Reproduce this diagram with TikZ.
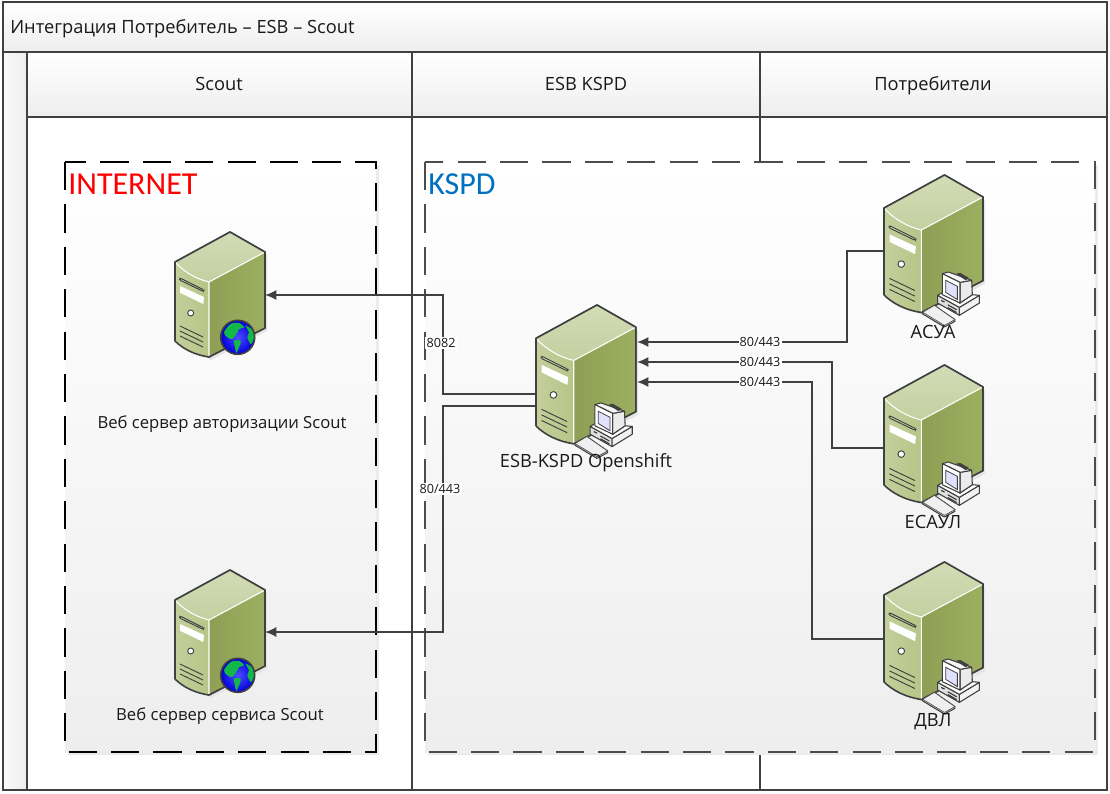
\documentclass[tikz,border=0pt]{standalone}
\usepackage{fontspec}
\setmainfont{Open Sans}
\newfontfamily\zonefont{Carlito}
\usepackage{tikz}
\usetikzlibrary{arrows.meta,positioning,calc}
\usepackage{xcolor}
\definecolor{framegray}{HTML}{404040}
\definecolor{headgray}{HTML}{EEEEEE}
\definecolor{srvfrontA}{HTML}{C4CF9C}
\definecolor{srvfrontB}{HTML}{B6C587}
\definecolor{srvsideA}{HTML}{8E9F55}
\definecolor{srvsideB}{HTML}{9DAF61}
\definecolor{srvtopA}{HTML}{D2DCB6}
\definecolor{srvtopB}{HTML}{C3D0A0}
\definecolor{globeland}{HTML}{12B848}
\definecolor{kspdblue}{HTML}{0070C0}
\tikzset{
    framebar/.style={draw=framegray,line width=0.95pt,top color=white,bottom color=headgray},
    zonebox/.style={line width=1.5pt,dash pattern=on 21.2pt off 10.6pt},
    zoneshade/.style={top color=white,bottom color=headgray},
    headtext/.style={font=\fontsize{13.7pt}{16pt}\selectfont,text=black!90,inner sep=0pt,text height=9.8pt,text depth=0pt},
    srvtext/.style={font=\fontsize{12.5pt}{15pt}\selectfont,text=black!90,inner sep=0pt,text height=8.9pt,text depth=0pt},
    porttext/.style={font=\fontsize{9.5pt}{11pt}\selectfont,text=black!90,fill=white,inner sep=0.8pt,text height=6.8pt,text depth=0pt},
    zonetext/.style={font=\zonefont\fontsize{24pt}{27pt}\selectfont,inner sep=0pt,anchor=base west},
    link/.style={draw=framegray,line width=1.1pt,-{Latex[length=8.5pt,width=7.5pt]}},
    pics/server/.style={code={
        \fill[black!10] (2,33) -- (57,3) -- (92,23) -- (92,99) -- (36,128) -- (2,112) -- cycle;
        \draw[line width=1.1pt,draw=framegray,line join=round,fill=srvsideA] (0,30) -- (55,0) -- (90,20) -- (90,96) -- (34,125) -- cycle;
        \shade[left color=srvsideA,right color=srvsideB] (34,50) -- (90,20) -- (90,96) -- (34,125) -- cycle;
        \shade[top color=srvtopA,bottom color=srvtopB] (0,30) -- (55,0) -- (90,20) -- (34,50) .. controls (22,47) and (10,41) .. (0,30) -- cycle;
        \shade[left color=srvfrontA,right color=srvfrontB] (0,30) .. controls (10,41) and (22,47) .. (34,50) -- (34,125) .. controls (20,123) and (8,117) .. (0,109) -- cycle;
        \draw[white,line width=0.8pt] (0,30) .. controls (10,41) and (22,47) .. (34,50) -- (90,20) (34,50) -- (34,125);
        \draw[line width=1.2pt,draw=framegray,line join=round] (0,109) -- (0,30) -- (55,0) -- (90,20) -- (90,96) -- (34,125) .. controls (20,123) and (8,117) .. (0,109);
        \draw[framegray,fill=srvfrontA,line width=0.7pt,rounded corners=1pt] (5,46) -- (29,58) -- (28.5,59.5) -- (4.5,48) -- cycle;
        \fill[white] (5,54) -- (29,65) -- (28.3,72) -- (5,60.7) -- cycle;
        \draw[framegray,fill=white,line width=0.7pt] (15.7,81) circle (3);
        \foreach \v in {0,5,10} \draw[framegray,line width=0.7pt] (5,94+\v) -- (28,105+\v);
    }},
    pics/webglobe/.style={code={
        \shade[inner color=blue!70!white,outer color=blue!85!black] (62.7,105.3) circle (17);
        \begin{scope}[shift={(62.7,105.3)}]
            \fill[globeland] plot[smooth cycle] coordinates {(-13.7,-5) (-7,-13.3) (1.3,-14.3) (6.3,-10) (1.3,-8.3) (-0.3,-5) (-5.3,1.7) (-10.3,0)};
            \fill[globeland] plot[smooth cycle] coordinates {(8,-11.7) (15.3,-6.7) (16,1.7) (13,6.7) (9.7,0) (11.3,-5)};
            \fill[globeland] plot[smooth cycle] coordinates {(-3.7,3.3) (3,3.3) (2,8.3) (-1.3,15.5) (-2.7,10)};
        \end{scope}
        \draw[framegray,line width=1.2pt] (62.7,105.3) circle (17);
    }},
    pics/desktop/.style={code={
        \draw[framegray,fill=gray!25,line width=0.8pt,line join=round] (35.2,124.8) -- (45.8,118.5) -- (64.5,131.5) -- (64.5,133) -- (54.9,138.2) -- (35.2,126.3) -- cycle;
        \draw[black!70,fill=black!6,line width=0.5pt,line join=round] (35.2,124.8) -- (45.8,118.5) -- (64.5,131.5) -- (54.9,136.7) -- cycle;
        \draw[framegray,fill=black!12,line width=0.8pt,line join=round] (48.8,109.4) -- (68.5,120.3) -- (68.5,127.6) -- (48.8,116.4) -- cycle;
        \draw[framegray,fill=black!5,line width=0.8pt,line join=round] (68.5,120.3) -- (86.7,109.4) -- (86.7,116.4) -- (68.5,127.6) -- cycle;
        \draw[framegray,fill=white,line width=0.8pt,line join=round] (48.8,109.4) -- (53,107) -- (69.1,116.4) -- (80.3,108.8) -- (86.7,109.4) -- (68.5,120.3) -- cycle;
        \draw[black!80,line width=0.8pt] (52,114) -- (55,115.5) (58,118) -- (66,122.5) (58,120.5) -- (66,125);
        \draw[framegray,fill=black!8,line width=0.8pt,line join=round] (69.1,97.6) -- (79.7,95.7) -- (80.3,108.8) -- (69.1,116.4) -- cycle;
        \draw[framegray,fill=black!4,line width=0.8pt,line join=round] (53,89.7) -- (58.5,88.2) -- (79.7,95.7) -- (69.1,97.6) -- cycle;
        \fill[black!75] (65.5,89.7) -- (69.1,89) -- (77.3,93.6) -- (74.2,95.7) -- cycle;
        \draw[framegray,fill=white,line width=0.8pt,line join=round] (53,89.7) -- (69.1,97.6) -- (69.1,116.4) -- (53,108.8) -- cycle;
        \draw[framegray,fill=blue!12,line width=0.6pt] (56.1,95.7) -- (66.7,101.2) -- (66.7,113.3) -- (56.1,106.7) -- cycle;
    }},
}
\begin{document}
\begin{tikzpicture}[x=0.75pt,y=-0.75pt]
    \useasboundingbox (0,0) rectangle (1110,793);
    \fill[white] (0,0) rectangle (1110,793);
    \shade[left color=black!2,right color=headgray] (3,52) rectangle (27,790);
    \draw[framebar] (3,2) rectangle (1107,52);
    \foreach \xa/\xb in {27/412,412/760,760/1107}
    \draw[framebar] (\xa,52) rectangle (\xb,117);
    \draw[framegray,line width=0.95pt] (3,2) rectangle (1107,790);
    \foreach \x in {27,412,760} \draw[framegray,line width=0.95pt] (\x,117) -- (\x,790);
    \node[headtext,anchor=west] (title) at (10,27) {Интеграция Потребитель – ESB – Scout};
    \node[headtext] (colscout) at (219,84) {Scout};
    \node[headtext] (colesb) at (586,84) {ESB KSPD};
    \node[headtext] (colcons) at (933,84) {Потребители};

    \fill[black!8] (68,165) rectangle (379,755);
    \shade[zoneshade] (65,162) rectangle (376,752);
    \draw[zonebox,black] (65,162) -- (65,752) -- (376,752) -- (376,162) -- cycle;
    \fill[black!8] (428,165) rectangle (1098,755);
    \shade[zoneshade] (425,162) rectangle (1095,752);
    \draw[zonebox,black!70] (425,162) -- (425,752) -- (1095,752) -- (1095,162) -- cycle;
    \node[zonetext,text=red] (inetzone) at (68,194.5) {INTERNET};
    \node[zonetext,text=kspdblue] (kspdzone) at (428,194.5) {KSPD};

    \foreach \x/\y/\s in {536/305/1.11,884/175/1.1,884/365/1.1,884/562/1.1,175/232/1,175/570/1}
    \pic[shift={(\x,\y)},scale=\s] {server};
    \foreach \y in {232,570} \pic[shift={(175,\y)}] {webglobe};
    \foreach \x/\y/\s in {536/305/1.11,884/175/1.1,884/365/1.1,884/562/1.1}
    \pic[shift={(\x,\y)},scale=\s] {desktop};

    \coordinate (esbwestA) at (536,394);
    \coordinate (esbwestB) at (536,406);
    \coordinate (esbeastA) at (637,342);
    \coordinate (esbeastB) at (637,362);
    \coordinate (esbeastC) at (637,382);
    \coordinate (webauth) at (265,295);
    \coordinate (webserv) at (265,632);
    \coordinate (asuaport) at (884,251);
    \coordinate (esaulport) at (884,448);
    \coordinate (dvlport) at (884,639);
    \draw[link] (esbwestA) -- ++(-93,0) |- (webauth);
    \draw[link] (esbwestB) -- ++(-93,0) |- (webserv);
    \draw[link] (asuaport) -- ++(-37,0) |- (esbeastA);
    \draw[link] (esaulport) -- ++(-52,0) |- (esbeastB);
    \draw[link] (dvlport) -- ++(-72,0) |- (esbeastC);
    \node[porttext] (portauth) at (441,343) {8082};
    \node[porttext] (portserv) at (440,489) {80/443};
    \node[porttext] (portasua) at (760,342) {80/443};
    \node[porttext] (portesaul) at (760,362) {80/443};
    \node[porttext] (portdvl) at (760,382) {80/443};

    \node[srvtext] (authname) at (222,423) {Веб сервер авторизации Scout};
    \node[srvtext] (servname) at (220,715) {Веб сервер сервиса Scout};
    \node[headtext] (esbname) at (586,461) {ESB-KSPD Openshift};
    \node[headtext] (asuaname) at (933,332) {АСУА};
    \node[headtext] (esaulname) at (933,522) {ЕСАУЛ};
    \node[headtext] (dvlname) at (933,720) {ДВЛ};
\end{tikzpicture}
\end{document}
